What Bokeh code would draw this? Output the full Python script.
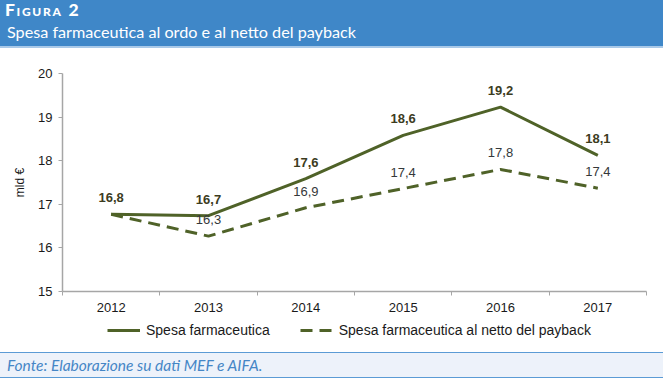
from bokeh.plotting import figure
from bokeh.models import Range1d, FixedTicker, Legend, LegendItem, LabelSet, ColumnDataSource, Div
from bokeh.layouts import column
from bokeh.embed import file_html
from bokeh.resources import INLINE
from bokeh.core.properties import value

# ---- data ----
years = ["2012", "2013", "2014", "2015", "2016", "2017"]
spesa = [16.77, 16.74, 17.59, 18.58, 19.23, 18.12]
spesa_netto = [16.77, 16.27, 16.92, 17.36, 17.80, 17.37]
y_ticks = [15, 16, 17, 18, 19, 20]
series_names = ["Spesa farmaceutica", "Spesa farmaceutica al netto del payback"]
title_top = "Figura 2"
title_sub = "Spesa farmaceutica al ordo e al netto del payback"
source_note = "Fonte: Elaborazione su dati MEF e AIFA."
y_label = "mld €"

GREEN = "#4F6228"
LABEL_BOLD = "#3c3c1e"
LABEL_NORM = "#35383a"
BLUE = "#3F87C8"
AXIS_COL = "#A6A6A6"
FONT = "Liberation Sans"
W = 663
DASH = "12 7"

def fmt(v):
    return ("%.1f" % v).replace(".", ",")

xs = [i + 0.5 for i in range(len(years))]

# ---- header ----
header = Div(
    text=(f'<div style="position:relative;width:{W}px;height:48px;background:{BLUE};'
          f'border-bottom:2px solid #A9C9E8;font-family:Lato;color:white;overflow:hidden;">'
          f'<div style="position:absolute;left:5px;top:1px;font-weight:900;font-size:17.5px;letter-spacing:1.7px;'
          f'font-variant:small-caps;line-height:18px;">{title_top}</div>'
          f'<div style="position:absolute;left:7px;top:23px;font-size:16.2px;line-height:18px;">{title_sub}</div>'
          f'</div>'),
    width=W, height=50, margin=0)

# ---- main chart ----
p = figure(width=W, height=266, x_range=Range1d(0, len(years)), y_range=Range1d(15, 20),
           output_backend="svg", toolbar_location=None,
           min_border_left=62, min_border_right=17, min_border_top=23, min_border_bottom=25,
           outline_line_color=None, margin=0)
p.grid.visible = False

src = ColumnDataSource(dict(x=xs, s=spesa, n=spesa_netto,
                            sl=[fmt(v) for v in spesa],
                            nl=[""] + [fmt(v) for v in spesa_netto[1:]]))

r1 = p.line("x", "s", source=src, line_color=GREEN, line_width=3)
r2 = p.line("x", "n", source=src, line_color=GREEN, line_width=3, line_dash=DASH)

p.add_layout(LabelSet(x="x", y="n", text="nl", source=src, y_offset=12,
                      text_align="center", text_baseline="alphabetic",
                      text_font=value(FONT), text_font_size="13px", text_color=LABEL_NORM))
p.add_layout(LabelSet(x="x", y="s", text="sl", source=src, y_offset=12,
                      text_align="center", text_baseline="alphabetic",
                      text_font=value(FONT), text_font_size="13px", text_font_style="bold",
                      text_color=LABEL_BOLD))

xa = p.xaxis[0]
xa.ticker = FixedTicker(ticks=xs, minor_ticks=list(range(len(years) + 1)))
xa.major_label_overrides = {x: y for x, y in zip(xs, years)}
xa.major_tick_out = 0
xa.major_tick_in = 0
xa.minor_tick_out = 4
xa.minor_tick_in = 0
xa.minor_tick_line_color = AXIS_COL
xa.axis_line_color = AXIS_COL
xa.axis_line_width = 1.5
xa.major_label_standoff = 7
xa.major_label_text_font = FONT
xa.major_label_text_font_size = "13px"
xa.major_label_text_color = "#1a1a1a"

ya = p.yaxis[0]
ya.ticker = FixedTicker(ticks=y_ticks, minor_ticks=[])
ya.major_tick_out = 4
ya.major_tick_in = 0
ya.major_tick_line_color = AXIS_COL
ya.axis_line_color = AXIS_COL
ya.axis_line_width = 1.5
ya.major_label_standoff = 6
ya.major_label_text_font = FONT
ya.major_label_text_font_size = "13px"
ya.major_label_text_color = "#1a1a1a"
ya.axis_label = y_label
ya.axis_label_text_font = FONT
ya.axis_label_text_font_style = "normal"
ya.axis_label_text_font_size = "12px"
ya.axis_label_text_color = "#1a1a1a"
ya.axis_label_standoff = 8

# ---- legend strip (same line styles as the chart; samples lie outside the visible range) ----
lf = figure(width=W, height=36, x_range=Range1d(0, 1), y_range=Range1d(0, 1),
            output_backend="svg", toolbar_location=None,
            min_border_left=62, min_border_right=17, min_border_top=0, min_border_bottom=0,
            x_axis_type=None, y_axis_type=None, outline_line_color=None, margin=0)
lf.grid.visible = False
l1 = lf.line(x=[5, 6], y=[5, 5], line_color=GREEN, line_width=3)
l2 = lf.line(x=[5, 6], y=[5, 5], line_color=GREEN, line_width=3, line_dash=DASH)
legend = Legend(items=[LegendItem(label=series_names[0], renderers=[l1]),
                       LegendItem(label=series_names[1], renderers=[l2])],
                orientation="horizontal", location=(45, 14),
                border_line_color=None, background_fill_alpha=0,
                margin=0, padding=2, spacing=30, glyph_width=33, glyph_height=16,
                label_standoff=6, label_text_font=FONT, label_text_font_size="14px",
                label_text_color="#1a1a1a", label_height=16)
lf.add_layout(legend)

# ---- footer ----
footer = Div(
    text=(f'<div style="width:{W}px;height:24px;background:#EDF2FA;border-top:1.5px solid #5B9BD5;'
          f'border-bottom:1.5px solid #5B9BD5;'
          f'font-family:Lato;font-style:italic;font-size:15.5px;line-height:24px;color:#4586C6;'
          f'padding-left:7px;box-sizing:content-box;">'
          f'{source_note}</div>'),
    width=W, height=27, margin=0)

page = column(header, p, lf, footer, spacing=0)
open("out.html", "w").write(file_html(page, INLINE))
